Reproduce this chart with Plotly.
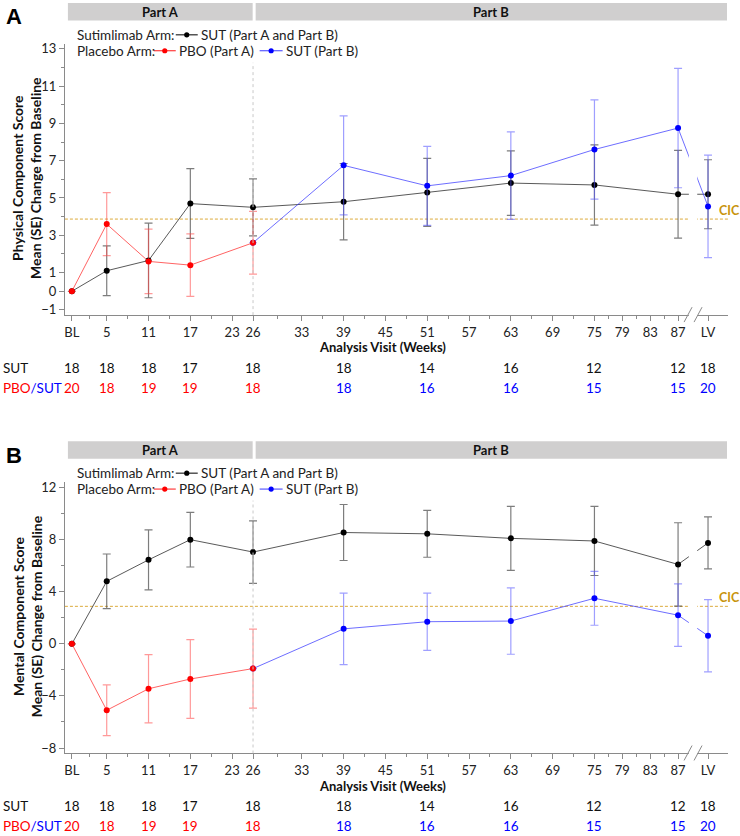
import plotly.graph_objects as go

# visit positions (weeks); LV sits after the axis break
visit_x = [0, 5, 11, 17, 26, 39, 51, 63, 75, 87, 91.3]
part_a_x = [0, 5, 11, 17, 26]
part_b_x = [26, 39, 51, 63, 75, 87, 91.3]

tick_vals = [0, 5, 11, 17, 23, 26, 33, 39, 45, 51, 57, 63, 69, 75, 79, 83, 87, 91.3]
tick_text = ["BL", "5", "11", "17", "23", "26", "33", "39", "45", "51", "57", "63",
             "69", "75", "79", "83", "87", "LV"]
minor_x = [2.5, 8, 14, 20, 29.5, 36, 42, 48, 54, 60, 66, 72, 77, 81, 85]

# Panel A: Physical Component Score
pcs_sut_mean = [0, 1.1, 1.65, 4.7, 4.5, 4.8, 5.3, 5.8, 5.7, 5.2, 5.2]
pcs_sut_se = [None, 1.33, 2.0, 1.87, 1.53, 2.05, 1.82, 1.73, 2.15, 2.35, 1.85]
pcs_pbo_mean = [0, 3.6, 1.6, 1.4, 2.6]
pcs_pbo_se = [None, 1.69, 1.73, 1.68, 1.68]
pcs_pbosut_mean = [2.6, 6.75, 5.65, 6.2, 7.6, 8.75, 4.55]
pcs_pbosut_se = [None, 2.65, 2.12, 2.35, 2.66, 3.2, 2.75]
pcs_cic = 3.87
pcs_yticks = [-1, 0, 1, 3, 5, 7, 9, 11, 13]
pcs_yminor = [2, 4, 6, 8, 10, 12]

# Panel B: Mental Component Score
mcs_sut_mean = [0, 4.8, 6.45, 8.0, 7.05, 8.55, 8.45, 8.1, 7.9, 6.1, 7.75]
mcs_sut_se = [None, 2.1, 2.3, 2.1, 2.4, 2.15, 1.8, 2.45, 2.65, 3.2, 2.0]
mcs_pbo_mean = [0, -5.1, -3.45, -2.7, -1.9]
mcs_pbo_se = [None, 1.95, 2.62, 3.03, 3.03]
mcs_pbosut_mean = [-1.9, 1.15, 1.7, 1.75, 3.5, 2.2, 0.62]
mcs_pbosut_se = [None, 2.75, 2.2, 2.55, 2.07, 2.4, 2.78]
mcs_cic = 2.88
mcs_yticks = [-8, -4, 0, 4, 8, 12]
mcs_yminor = [-6, -2, 2, 6, 10]

# patients at each visit
n_sut = [18, 18, 18, 17, 18, 18, 14, 16, 12, 12, 18]
n_pbo = [20, 18, 19, 19, 18, 18, 16, 16, 15, 15, 20]

W, H = 740, 836
FONT = "Lato"
AXIS_GRAY = "#8a8a8a"


def px(x):
    return x / W


def py(y):
    return 1 - y / H


fig = go.Figure()


def add_panel(letter, ax, off, ytitle, sut, sut_se, pbo, pbo_se, ps, ps_se,
              cic, yticks, yminor, yrange, vline_top):
    xa = "x" if ax == 1 else "x%d" % ax
    ya = "y" if ax == 1 else "y%d" % ax

    fig.add_trace(go.Scatter(
        x=visit_x, y=sut, xaxis=xa, yaxis=ya, mode="lines+markers",
        line=dict(color="rgba(60,60,60,0.85)", width=1),
        marker=dict(color="black", size=6),
        error_y=dict(type="data", array=sut_se, color="rgba(70,70,70,0.7)",
                     thickness=1.2, width=4),
        showlegend=False))
    fig.add_trace(go.Scatter(
        x=part_b_x, y=ps, xaxis=xa, yaxis=ya, mode="lines+markers",
        line=dict(color="rgba(60,60,255,0.75)", width=1),
        marker=dict(color="#0000ff", size=6),
        error_y=dict(type="data", array=ps_se, color="rgba(80,80,255,0.55)",
                     thickness=1.2, width=4),
        showlegend=False))
    fig.add_trace(go.Scatter(
        x=part_a_x, y=pbo, xaxis=xa, yaxis=ya, mode="lines+markers",
        line=dict(color="rgba(255,60,60,0.8)", width=1),
        marker=dict(color="#ff0000", size=6),
        error_y=dict(type="data", array=pbo_se, color="rgba(255,70,70,0.55)",
                     thickness=1.2, width=4),
        showlegend=False))

    top, bot = 41 + off, 314 + off
    fig.update_layout(**{
        ("xaxis" if ax == 1 else "xaxis%d" % ax): dict(
            domain=[px(64), px(728)], anchor=ya, range=[-1.0, 94.17],
            tickmode="array", tickvals=tick_vals, ticktext=tick_text,
            ticks="outside", ticklen=5, tickcolor=AXIS_GRAY, showline=True,
            linecolor=AXIS_GRAY, linewidth=1, showgrid=False, zeroline=False,
            tickfont=dict(family=FONT, size=13, color="#222"),
            minor=dict(tickmode="array", tickvals=minor_x, ticks="outside",
                       ticklen=3, tickcolor=AXIS_GRAY)),
        ("yaxis" if ax == 1 else "yaxis%d" % ax): dict(
            domain=[py(bot), py(top)], anchor=xa, range=yrange,
            tickmode="array", tickvals=yticks, ticks="outside", ticklen=5,
            tickcolor=AXIS_GRAY, showline=True, linecolor=AXIS_GRAY,
            linewidth=1, showgrid=False, zeroline=False,
            tickfont=dict(family=FONT, size=13, color="#222"),
            minor=dict(tickmode="array", tickvals=yminor, ticks="outside",
                       ticklen=3, tickcolor=AXIS_GRAY)),
    })

    # week 26 divider
    fig.add_shape(type="line", xref=xa, yref=ya, x0=26, x1=26,
                  y0=yrange[0], y1=vline_top,
                  line=dict(color="#c8c8c8", width=1, dash="dot"))
    # axis break
    fig.add_shape(type="rect", xref=xa, yref=ya + " domain", x0=88.55, x1=89.75,
                  y0=-0.02, y1=1, fillcolor="white", line=dict(width=0),
                  layer="above")
    for x0 in (684, 694):
        fig.add_shape(type="line", xref="paper", yref="paper",
                      x0=px(x0), x1=px(x0 + 8), y0=py(bot + 7), y1=py(bot - 8),
                      line=dict(color=AXIS_GRAY, width=1))
    # CIC threshold
    fig.add_shape(type="line", xref=xa, yref=ya, x0=-1.0, x1=94.17,
                  y0=cic, y1=cic, layer="below",
                  line=dict(color="#dcab3c", width=1, dash="3px,2px"))
    fig.add_annotation(text="<b>CIC</b>", xref="paper", yref=ya, x=px(717),
                       y=cic, yshift=-1, xanchor="left", yanchor="bottom",
                       showarrow=False,
                       font=dict(family=FONT, size=12.5, color="#c8940c"))

    # header bars
    for x0, x1, label in ((67, 252, "Part A"), (255, 727, "Part B")):
        fig.add_shape(type="rect", xref="paper", yref="paper",
                      x0=px(x0), x1=px(x1), y0=py(off + 17.5), y1=py(off),
                      fillcolor="#d0cfcf", line=dict(width=0))
        fig.add_annotation(text="<b>%s</b>" % label, xref="paper", yref="paper",
                           x=px((x0 + x1) / 2), y=py(off + 9), showarrow=False,
                           xanchor="center", yanchor="middle",
                           font=dict(family=FONT, size=13, color="#111"))
    fig.add_annotation(text="<b>%s</b>" % letter, xref="paper", yref="paper",
                       x=px(3), y=py(off + 14), xanchor="left", yanchor="middle",
                       showarrow=False,
                       font=dict(family="Liberation Sans", size=22, color="black"))

    # legend
    leg_font = dict(family=FONT, size=13.5, color="#222")
    rows = [(32, "Sutimlimab Arm:", [(175, 197, "black", "rgba(40,40,40,1)",
                                      "SUT (Part A and Part B)")]),
            (48, "Placebo Arm:", [(153, 175, "#ff0000", "rgba(255,60,60,1)",
                                   "PBO (Part A)"),
                                  (259, 282, "#0000ff", "rgba(90,90,255,1)",
                                   "SUT (Part B)")])]
    for yrow, head, items in rows:
        yy = py(off + yrow)
        fig.add_annotation(text=head, xref="paper", yref="paper", x=px(74),
                           y=yy, xanchor="left", yanchor="middle",
                           showarrow=False, font=leg_font)
        for x0, x1, mc, lc, lab in items:
            fig.add_shape(type="line", xref="paper", yref="paper", x0=px(x0),
                          x1=px(x1), y0=yy, y1=yy, line=dict(color=lc, width=1.2))
            cx = (x0 + x1) / 2
            fig.add_shape(type="circle", xref="paper", yref="paper",
                          x0=px(cx - 2.6), x1=px(cx + 2.6), y0=py(off + yrow + 2.6),
                          y1=py(off + yrow - 2.6), fillcolor=mc,
                          line=dict(color=mc, width=0))
            fig.add_annotation(text=lab, xref="paper", yref="paper",
                               x=px(x1 + 1), y=yy, xanchor="left",
                               yanchor="middle", showarrow=False, font=leg_font)

    # y title
    fig.add_annotation(text="<b>%s</b>" % ytitle, xref="paper", yref="paper",
                       x=px(26), y=py(off + 176), textangle=-90,
                       xanchor="center", yanchor="middle", showarrow=False,
                       font=dict(family=FONT, size=14, color="#111"))
    # x title
    fig.add_annotation(text="<b>Analysis Visit (Weeks)</b>", xref="paper",
                       yref="paper", x=px(382), y=py(off + 346.5),
                       xanchor="center", yanchor="middle", showarrow=False,
                       font=dict(family=FONT, size=13, color="#111"))

    # numbers at risk
    num_font = dict(family=FONT, size=13.5)
    fig.add_annotation(text="SUT", xref="paper", yref="paper", x=0,
                       y=py(off + 367), xanchor="left", yanchor="middle",
                       showarrow=False, font=dict(num_font, color="#111"))
    fig.add_annotation(text='<span style="color:#ff0000">PBO</span>'
                            '<span style="color:#0000ff">/SUT</span>',
                       xref="paper", yref="paper", x=0, y=py(off + 387),
                       xanchor="left", yanchor="middle", showarrow=False,
                       font=num_font)
    for i, xv in enumerate(visit_x):
        fig.add_annotation(text=str(n_sut[i]), xref=xa, yref="paper", x=xv,
                           y=py(off + 367), xanchor="center", yanchor="middle",
                           showarrow=False, font=dict(num_font, color="#111"))
        col = "#ff0000" if xv <= 26 else "#0000ff"
        fig.add_annotation(text=str(n_pbo[i]), xref=xa, yref="paper", x=xv,
                           y=py(off + 387), xanchor="center", yanchor="middle",
                           showarrow=False, font=dict(num_font, color=col))


add_panel("A", 1, 0, "Physical Component Score<br>Mean (SE) Change from Baseline",
          pcs_sut_mean, pcs_sut_se, pcs_pbo_mean, pcs_pbo_se,
          pcs_pbosut_mean, pcs_pbosut_se, pcs_cic, pcs_yticks, pcs_yminor,
          [-1.28, 13.27], 12.25)
add_panel("B", 2, 441, "Mental Component Score<br>Mean (SE) Change from Baseline",
          mcs_sut_mean, mcs_sut_se, mcs_pbo_mean, mcs_pbo_se,
          mcs_pbosut_mean, mcs_pbosut_se, mcs_cic, mcs_yticks, mcs_yminor,
          [-8.42, 12.42], 11.0)

fig.update_layout(
    width=W, height=H,
    margin=dict(l=0, r=0, t=0, b=0),
    paper_bgcolor="white", plot_bgcolor="white",
    font=dict(family=FONT, size=13, color="#222"),
    showlegend=False,
)

# the page body has a default 8px margin; drop it so the figure sits at 0,0
fig.write_html("out.html", config={"displayModeBar": False},
               post_script="document.body.style.margin='0';")
